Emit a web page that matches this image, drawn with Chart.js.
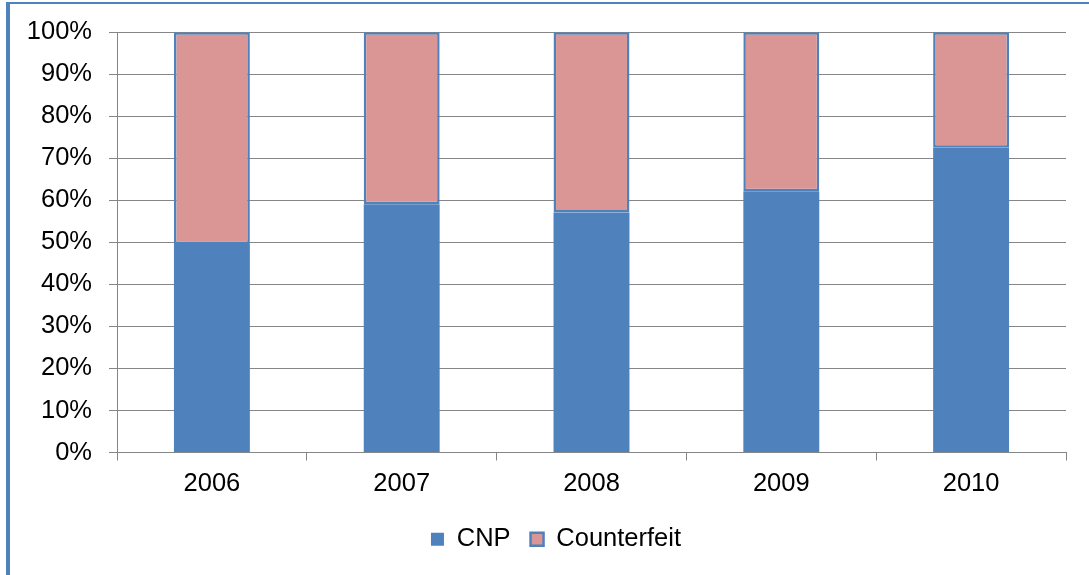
<!DOCTYPE html>
<html>
<head>
<meta charset="utf-8">
<script src="https://cdn.jsdelivr.net/npm/chart.js@4"></script>
<style>
  html, body { margin: 0; padding: 0; background: #fff; }
  #frame {
    position: absolute; left: 6px; top: 2px; width: 1100px; height: 600px;
    border-left: 4px solid #4F81BD; border-top: 2px solid #4F81BD;
  }
  #wrap { position: absolute; left: 0; top: 0; width: 1089px; height: 575px; }
</style>
</head>
<body>
<div id="frame"></div>
<div id="wrap"><canvas id="chart" width="1089" height="575"></canvas></div>
<script>
// data (percent of each year)
const years = ['2006', '2007', '2008', '2009', '2010'];
const cnpShare = [49.6, 59.1, 57.1, 62.2, 72.5];
const counterfeitShare = [50.4, 40.9, 42.9, 37.8, 27.5];

const FONT = "'Liberation Sans', Arial, sans-serif";
const GRID = '#868686';
const SIZE = 25.5;

Chart.defaults.font.family = FONT;
Chart.defaults.font.size = SIZE;
Chart.defaults.color = '#000';

// the original legend sits a bit right of the canvas centre
const legendShift = {
    id: 'legendShift',
    afterLayout(chart) {
        chart.legend.left += 23;
        chart.legend.right += 23;
    }
};

const ctx = document.getElementById('chart').getContext('2d');
new Chart(ctx, {
    type: 'bar',
    data: {
        labels: years,
        datasets: [{
            label: 'CNP',
            data: cnpShare,
            backgroundColor: '#4F81BD',
            borderWidth: 0
        }, {
            label: 'Counterfeit',
            data: counterfeitShare,
            backgroundColor: '#D99694',
            borderColor: '#4F81BD',
            borderWidth: 2.5,
            borderSkipped: false
        }]
    },
    options: {
        responsive: false,
        animation: false,
        categoryPercentage: 1,
        barPercentage: 0.4,
        layout: { padding: { top: 32, right: 23, bottom: 13, left: 0 } },
        plugins: {
            tooltip: { enabled: false },
            legend: {
                position: 'bottom',
                labels: { boxWidth: 13, boxHeight: 13, padding: 20, font: { size: SIZE } }
            }
        },
        scales: {
            x: {
                stacked: true,
                grid: { drawOnChartArea: false, drawTicks: true, tickLength: 8, color: GRID },
                border: { color: GRID, width: 1 },
                ticks: { padding: 8, font: { size: SIZE } },
                afterFit: s => { s.height = 54; }
            },
            y: {
                stacked: true,
                min: 0, max: 100,
                grid: { color: GRID, lineWidth: 1, tickLength: 8 },
                border: { color: GRID, width: 1 },
                ticks: { stepSize: 10, padding: 17, font: { size: SIZE }, callback: v => v + '%' },
                afterFit: s => { s.width = 117; }
            }
        }
    },
    plugins: [legendShift]
});
</script>
</body>
</html>
